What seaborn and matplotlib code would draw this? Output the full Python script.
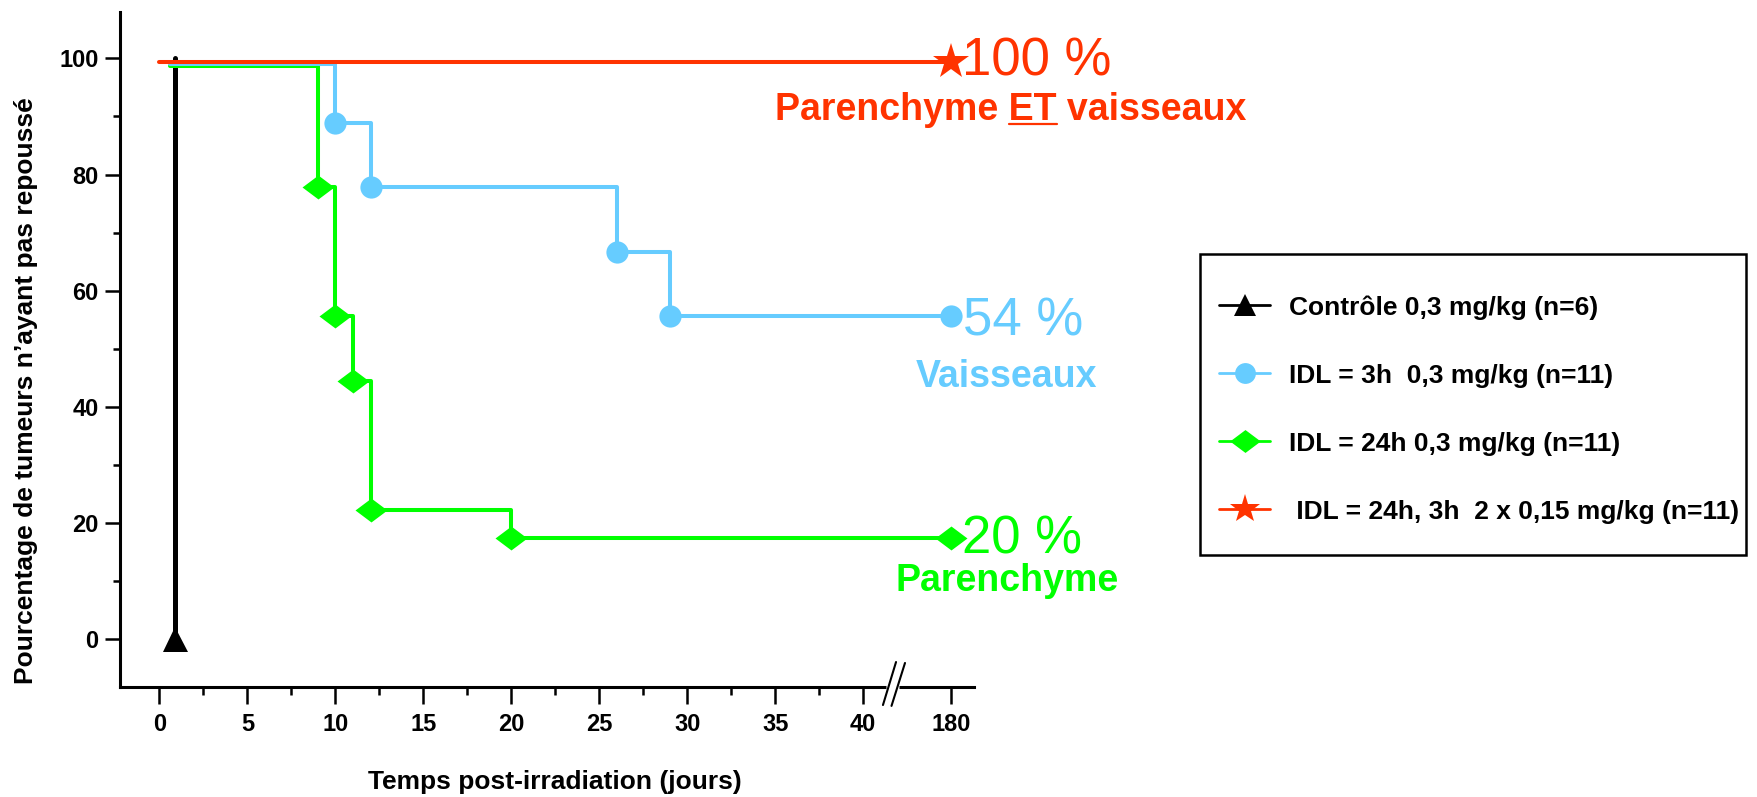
import numpy as np
import matplotlib
matplotlib.use("Agg")
import matplotlib.pyplot as plt
from matplotlib.lines import Line2D
from matplotlib.patches import Rectangle
import seaborn as sns

# ---------------- data ----------------
ctrl_t = [0.9, 0.9]
ctrl_s = [100.0, 0.0]

idl3_t = [0.6, 10, 12, 26, 29, 180]
idl3_s = [99.0, 88.9, 77.8, 66.7, 55.6, 55.6]

idl24_t = [0.6, 9, 10, 11, 12, 20, 180]
idl24_s = [98.7, 77.8, 55.6, 44.4, 22.2, 17.3, 17.3]

combo_t = [0, 180]
combo_s = [99.4, 99.4]

series_labels = [
    "Contrôle 0,3 mg/kg (n=6)",
    "IDL = 3h  0,3 mg/kg (n=11)",
    "IDL = 24h 0,3 mg/kg (n=11)",
    " IDL = 24h, 3h  2 x 0,15 mg/kg (n=11)",
]
x_ticks = [0, 5, 10, 15, 20, 25, 30, 35, 40, 180]
x_tick_labels = ["0", "5", "10", "15", "20", "25", "30", "35", "40", "180"]
y_ticks = [0, 20, 40, 60, 80, 100]
y_tick_labels = ["0", "20", "40", "60", "80", "100"]

end_pct = ["100 %", "54 %", "20 %"]
end_names = ["Parenchyme ET vaisseaux", "Vaisseaux", "Parenchyme"]

# ---------------- style ----------------
BLACK = "#000000"
BLUE = "#66CCFF"
GREEN = "#00FF00"
RED = "#FF3300"

sns.set_style("ticks")
plt.rcParams["font.family"] = ["Liberation Sans", "DejaVu Sans"]
for k in ["text.color", "axes.labelcolor", "xtick.color", "ytick.color", "axes.edgecolor"]:
    plt.rcParams[k] = "black"

W, H = 1757, 797
fig = plt.figure(figsize=(W / 100, H / 100), dpi=100)
ax = fig.add_axes([120 / W, 1 - 687 / H, 854 / W, 675 / H])


# broken time axis: linear to 42 days, then compressed up to 180
def fwd(t):
    t = np.asarray(t, dtype=float)
    return np.where(t <= 42, t, 42 + (t - 42) * 3.0 / 138.0)


def inv(u):
    u = np.asarray(u, dtype=float)
    return np.where(u <= 42, u, 42 + (u - 42) * 138.0 / 3.0)


ax.set_xscale("function", functions=(fwd, inv))
ax.set_xlim(-2.24, 239.8)
ax.set_ylim(-8.3, 108)

diamond = [(-1, 0), (0, 0.75), (1, 0), (0, -0.75), (-1, 0)]

sns.lineplot(x=ctrl_t, y=ctrl_s, ax=ax, estimator=None, sort=False, errorbar=None,
             color=BLACK, linewidth=3.6, marker="^", markersize=18, markevery=[1],
             markeredgewidth=0, zorder=3)
sns.lineplot(x=idl24_t, y=idl24_s, ax=ax, estimator=None, sort=False, errorbar=None,
             color=GREEN, linewidth=2.9, drawstyle="steps-post", marker=diamond,
             markersize=23, markevery=list(range(1, len(idl24_t))),
             markeredgewidth=0, zorder=4)
sns.lineplot(x=idl3_t, y=idl3_s, ax=ax, estimator=None, sort=False, errorbar=None,
             color=BLUE, linewidth=2.9, drawstyle="steps-post", marker="o",
             markersize=16, markevery=list(range(1, len(idl3_t))),
             markeredgewidth=0, zorder=5)
sns.lineplot(x=combo_t, y=combo_s, ax=ax, estimator=None, sort=False, errorbar=None,
             color=RED, linewidth=2.9, marker="*", markersize=27, markevery=[1],
             markeredgewidth=0, zorder=6)

# ticks
ax.set_xticks(x_ticks, labels=x_tick_labels)
ax.set_xticks(np.arange(2.5, 40, 5), minor=True)
ax.set_yticks(y_ticks, labels=y_tick_labels)
ax.set_yticks(np.arange(10, 100, 20), minor=True)
ax.tick_params(axis="x", which="major", length=12.5, width=1.8, pad=6, labelsize=17)
ax.tick_params(axis="x", which="minor", length=6, width=1.8)
ax.tick_params(axis="y", which="major", length=10.5, width=1.8, pad=5, labelsize=17)
ax.tick_params(axis="y", which="minor", length=5, width=1.8)
for lbl in ax.get_xticklabels() + ax.get_yticklabels():
    lbl.set_fontweight("bold")

sns.despine(ax=ax)
for sp in ["left", "bottom"]:
    ax.spines[sp].set_linewidth(2.2)
    ax.spines[sp].set_color("black")

# labels
ax.set_xlabel("Temps post-irradiation (jours)", fontsize=19, fontweight="bold")
ax.xaxis.label.set_va("baseline")
ax.xaxis.set_label_coords((555 - 120) / 854, (687 - 789) / 675)
ax.set_ylabel("Pourcentage de tumeurs n’ayant pas repoussé", fontsize=19, fontweight="bold")
ax.yaxis.label.set_va("center")
ax.yaxis.set_label_coords((26 - 120) / 854, (687 - 391) / 675)

# axis break marks
ax.plot([0.897, 0.912], [0, 0], transform=ax.transAxes, color="white", lw=5,
        clip_on=False, zorder=10, solid_capstyle="butt")
ax.plot([0.8934, 0.9087], [-0.0267, 0.037], transform=ax.transAxes, color="black",
        lw=1.5, clip_on=False, zorder=11)
ax.plot([0.9034, 0.9192], [-0.028, 0.0356], transform=ax.transAxes, color="black",
        lw=1.5, clip_on=False, zorder=11)


def fx(px):
    return px / W


def fy(py):
    return 1 - py / H


# end annotations
fig.text(fx(962), fy(76), end_pct[0], color=RED, fontsize=38, ha="left", va="baseline")
t_ev = fig.text(fx(1011), fy(120), end_names[0], color=RED, fontsize=27,
                fontweight="bold", ha="center", va="baseline")
fig.text(fx(963), fy(335), end_pct[1], color=BLUE, fontsize=38, ha="left", va="baseline")
fig.text(fx(1007), fy(387), end_names[1], color=BLUE, fontsize=27, fontweight="bold",
         ha="center", va="baseline")
fig.text(fx(962), fy(553), end_pct[2], color=GREEN, fontsize=38, ha="left", va="baseline")
fig.text(fx(1007), fy(591), end_names[2], color=GREEN, fontsize=27, fontweight="bold",
         ha="center", va="baseline")

# underline of "ET"
fig.canvas.draw()
renderer = fig.canvas.get_renderer()


def text_width(s):
    t = fig.text(0, 0, s, fontsize=27, fontweight="bold")
    w = t.get_window_extent(renderer).width
    t.remove()
    return w


bb = t_ev.get_window_extent(renderer)
x_start = bb.x1 - text_width("ET vaisseaux")
x_end = bb.x0 + text_width("Parenchyme ET")
y_ul = H - 124
fig.add_artist(Line2D([x_start / W, x_end / W], [y_ul / H, y_ul / H],
                      transform=fig.transFigure, color=RED, lw=1.6))

# legend
handles = [
    Line2D([], [], color=BLACK, lw=2, marker="^", markersize=16, markeredgewidth=0),
    Line2D([], [], color=BLUE, lw=2, marker="o", markersize=15, markeredgewidth=0),
    Line2D([], [], color=GREEN, lw=2, marker=diamond, markersize=22, markeredgewidth=0),
    Line2D([], [], color=RED, lw=2, marker="*", markersize=22, markeredgewidth=0),
]
fig.add_artist(Rectangle((1200 / W, 1 - 555 / H), 546 / W, 301 / H,
                         transform=fig.transFigure, facecolor="white",
                         edgecolor="black", linewidth=1.8, zorder=1))
leg = fig.legend(handles, series_labels, loc="upper left",
                 bbox_to_anchor=(1219 / W, 1 - 295 / H),
                 borderaxespad=0, frameon=False, prop={"weight": "bold", "size": 19},
                 handlelength=1.95, handletextpad=0.7, labelspacing=1.67, borderpad=0)
leg.set_zorder(2)

fig.savefig("out.png", dpi=100, facecolor="white")
